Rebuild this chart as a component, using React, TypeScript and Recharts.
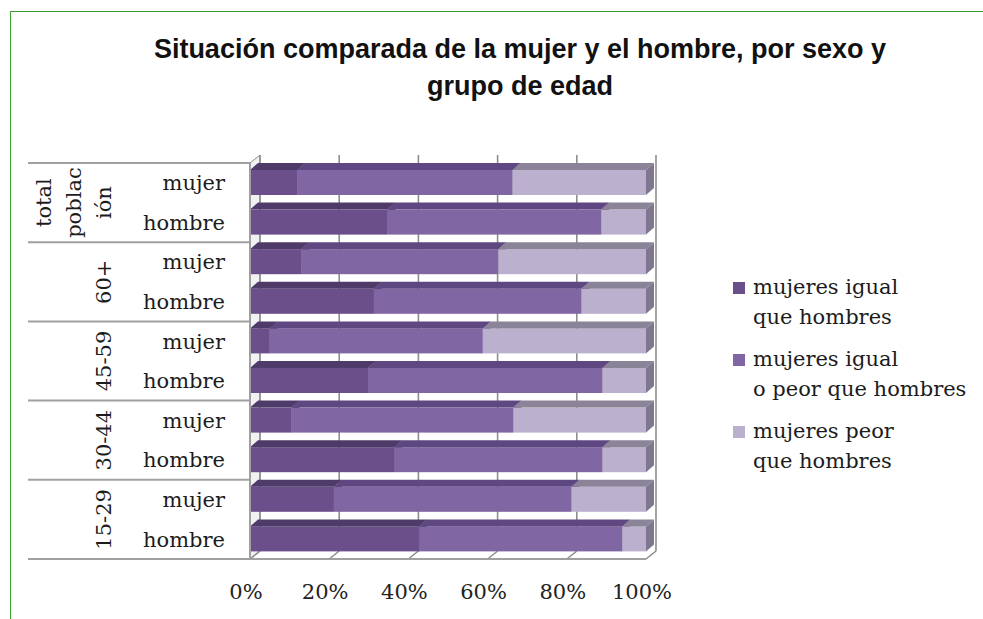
import React from 'react';
import { BarChart, Bar, XAxis, YAxis, CartesianGrid, Legend } from 'recharts';

// filas de arriba a abajo
const sexo = ['mujer', 'hombre', 'mujer', 'hombre', 'mujer', 'hombre', 'mujer', 'hombre', 'mujer', 'hombre'];
const grupos = [['total', 'poblac', 'ión'], ['60+'], ['45-59'], ['30-44'], ['15-29']];

// porcentajes
const igual = [12, 34.7, 13, 31.3, 5, 29.8, 10.5, 36.4, 21.2, 42.7];
const igualOPeor = [54.3, 54, 49.7, 52.4, 53.8, 59.2, 56, 52.6, 60, 51.3];
const peor = [33.7, 11.3, 37.3, 16.3, 41.2, 11, 33.5, 11, 18.8, 6];

const nombres = ['mujeres igual\nque hombres', 'mujeres igual\no peor que hombres', 'mujeres peor\nque hombres'];
const xTicks = [0, 20, 40, 60, 80, 100];

const data = sexo.map((s, i) => ({
  label: s,
  igual: igual[i],
  igualOPeor: igualOPeor[i],
  peor: peor[i],
}));

// Colores (cara frontal, superior y lateral)
const COLORS = [
  { front: '#6a4f8a', top: '#4f3b69', side: '#55406f' },
  { front: '#8067a3', top: '#5f4782', side: '#6b568c' },
  { front: '#bbb1ce', top: '#8b8398', side: '#7f778f' },
];

const SERIF = '"DejaVu Serif", serif';
const FS = 21;
const W = 983;
const H = 619;
const MARGIN = { top: 163, right: 337, bottom: 10, left: 10 };
const X_AXIS_H = 50;
const BAND = (H - MARGIN.top - MARGIN.bottom - X_AXIS_H) / sexo.length;
const BAR_DX = 8;
const BAR_DY = 7;
const WALL_DX = 10;
const WALL_DY = 8;
const GRID = '#8e8e8e';

const make3DBar = (c: { front: string; top: string; side: string }) => (props: any) => {
  const { x, y, width, height } = props;
  if (!width || width <= 0) return <g />;
  return (
    <g>
      <rect x={x} y={y} width={width} height={height} fill={c.front} />
      <polygon
        points={`${x},${y} ${x + BAR_DX},${y - BAR_DY} ${x + width + BAR_DX},${y - BAR_DY} ${x + width},${y}`}
        fill={c.top}
      />
      <polygon
        points={`${x + width},${y} ${x + width + BAR_DX},${y - BAR_DY} ${x + width + BAR_DX},${y + height - BAR_DY} ${x + width},${y + height}`}
        fill={c.side}
      />
    </g>
  );
};

// pared del fondo, suelo y pared lateral
const renderGridLine = (p: any) => {
  const { x1, y1, y2, index } = p;
  return (
    <g key={p.key}>
      {index === 0 && (
        <polygon
          points={`${x1},${y1} ${x1 + WALL_DX},${y1 - WALL_DY} ${x1 + WALL_DX},${y2 - WALL_DY} ${x1},${y2}`}
          fill="#f1f1f1"
          stroke={GRID}
          strokeWidth={1}
        />
      )}
      <line x1={x1 + WALL_DX} x2={x1 + WALL_DX} y1={y1 - WALL_DY} y2={y2 - WALL_DY} stroke={GRID} strokeWidth={1.6} />
      <line x1={x1} y1={y2} x2={x1 + WALL_DX} y2={y2 - WALL_DY} stroke={GRID} strokeWidth={1.6} />
    </g>
  );
};

const CategoryTick = (props: any) => {
  const { x, y, payload } = props;
  const index = props.index ?? payload.index;
  const half = BAND / 2;
  const first = index % 2 === 0;
  const lines = grupos[Math.floor(index / 2)];
  return (
    <g>
      <text x={x} y={y} dy="0.35em" textAnchor="end" fontFamily={SERIF} fontSize={FS} fill="#1c1c1c">
        {payload.value}
      </text>
      {first && <line x1={x - 197} x2={x + 25} y1={y - half} y2={y - half} stroke="#a0a0a0" strokeWidth={2} />}
      {index === sexo.length - 1 && (
        <line x1={x - 197} x2={x + 25} y1={y + half} y2={y + half} stroke="#a0a0a0" strokeWidth={2} />
      )}
      {first &&
        lines.map((t, k) => (
          <text
            key={k}
            transform={`translate(${x - 121 - (lines.length - 1 - k) * 30}, ${y + half}) rotate(-90)`}
            dy="0.35em"
            textAnchor="middle"
            fontFamily={SERIF}
            fontSize={FS}
            fill="#1c1c1c"
          >
            {t}
          </text>
        ))}
    </g>
  );
};

const PercentTick = (props: any) => {
  const { x, y, payload } = props;
  return (
    <text x={x - 4} y={y + 40} textAnchor="middle" fontFamily={SERIF} fontSize={FS} fill="#222">
      {`${payload.value}%`}
    </text>
  );
};

const renderLegend = ({ payload }: any) => {
  const items = [...(payload || [])].sort((a: any, b: any) => nombres.indexOf(a.value) - nombres.indexOf(b.value));
  return (
    <div style={{ fontFamily: SERIF, fontSize: FS, color: '#1c1c1c' }}>
      {items.map((entry: any, i: number) => (
        <div key={i} style={{ display: 'flex', alignItems: 'flex-start', marginBottom: 12 }}>
          <div style={{ width: 12, height: 12, marginTop: 10, marginRight: 8, backgroundColor: entry.color, flexShrink: 0 }} />
          <div style={{ whiteSpace: 'pre-line', lineHeight: '30px' }}>{entry.value}</div>
        </div>
      ))}
    </div>
  );
};

export default function App() {
  const keys = ['igual', 'igualOPeor', 'peor'];
  return (
    <div style={{ position: 'absolute', left: 0, top: 0, width: W, height: H, background: '#fff' }}>
      <div
        style={{
          position: 'absolute',
          left: 10,
          top: 11,
          right: 0,
          bottom: 0,
          borderLeft: '1.5px solid #3d9b35',
          borderTop: '1.5px solid #3d9b35',
        }}
      />
      <div
        style={{
          position: 'absolute',
          left: 120,
          top: 31,
          width: 800,
          textAlign: 'center',
          fontFamily: '"Liberation Sans", Arial, sans-serif',
          fontWeight: 'bold',
          fontSize: 27,
          lineHeight: '37px',
          color: '#111',
        }}
      >
        Situación comparada de la mujer y el hombre, por sexo y
        <br />
        grupo de edad
      </div>
      <div style={{ position: 'absolute', left: 0, top: 0 }}>
        <BarChart width={W} height={H} data={data} layout="vertical" margin={MARGIN}>
          <CartesianGrid horizontal={false} vertical={renderGridLine} />
          <XAxis
            type="number"
            domain={[0, 100]}
            ticks={xTicks}
            height={X_AXIS_H}
            axisLine={{ stroke: '#a0a0a0', strokeWidth: 2 }}
            tickLine={false}
            tickSize={0}
            tickMargin={0}
            tick={<PercentTick />}
          />
          <YAxis
            type="category"
            dataKey="label"
            width={240}
            axisLine={{ stroke: '#a0a0a0', strokeWidth: 2 }}
            tickLine={false}
            tickSize={0}
            tickMargin={25}
            interval={0}
            tick={<CategoryTick />}
          />
          <Legend
            layout="vertical"
            align="center"
            verticalAlign="middle"
            wrapperStyle={{ left: 733, top: 272, width: 250 }}
            content={renderLegend}
          />
          {keys.map((k, i) => (
            <Bar
              key={k}
              dataKey={k}
              name={nombres[i]}
              stackId="a"
              barSize={25}
              fill={COLORS[i].front}
              legendType="square"
              shape={make3DBar(COLORS[i])}
              isAnimationActive={false}
            />
          ))}
        </BarChart>
      </div>
    </div>
  );
}
